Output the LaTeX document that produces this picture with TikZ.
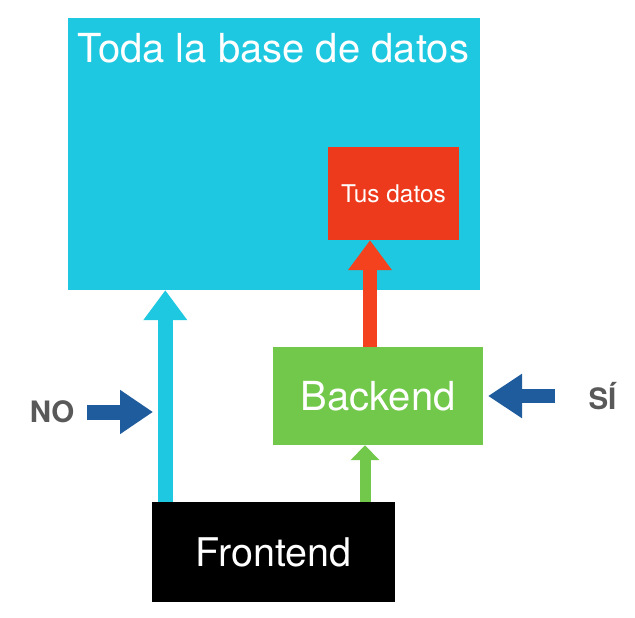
\documentclass[tikz,border=0pt]{standalone}
\usepackage{fontspec}
\setmainfont{TeX Gyre Heros}
\usetikzlibrary{arrows.meta}
\definecolor{dbcyan}{HTML}{1EC8E0}
\definecolor{redbox}{HTML}{EE3A1C}
\definecolor{redarrow}{HTML}{F4411E}
\definecolor{greenbox}{HTML}{72C84B}
\definecolor{darkblue}{HTML}{1F5C9E}
\definecolor{graytext}{HTML}{595959}
\tikzset{
  box/.style={rectangle, inner sep=0pt, draw=none, text=white},
  bigarrow/.style={line width=#1, -{Triangle[width=42pt,length=30pt]}},
  smallarrow/.style={line width=11pt, -{Triangle[width=28pt,length=15pt]}},
  sidetext/.style={text=graytext, font=\bfseries\fontsize{29.5}{31}\selectfont}
}
\begin{document}
\begin{tikzpicture}[x=1pt,y=-1pt]
\useasboundingbox (0,0) rectangle (635,618);
\fill[white] (0,0) rectangle (635,618);
% nodes
\node[box, fill=dbcyan, minimum width=412pt, minimum height=272pt] (db) at (274,154) {};
\node[box, anchor=base west, font=\fontsize{40}{42}\selectfont] (title) at (77,63) {Toda la base de datos};
\node[box, fill=redbox, minimum width=131pt, minimum height=93pt, font=\fontsize{24.4}{26}\selectfont] (red) at (393.5,193.5) {Tus datos};
\node[box, fill=greenbox, minimum width=210pt, minimum height=98pt, font=\fontsize{40}{42}\selectfont] (back) at (378,396) {Backend};
\node[box, fill=black, minimum width=243pt, minimum height=100pt, font=\fontsize{39.5}{42}\selectfont] (front) at (273.5,552) {Frontend};
\node[sidetext, anchor=east] (no) at (78,412) {NO};
\node[sidetext, anchor=west] (si) at (585,396) {SÍ};
% coordinates for the side arrows
\coordinate (noA) at (87,412);
\coordinate (noB) at (153,412);
\coordinate (siA) at (555,396);
\coordinate (siB) at (488,396);
% connectors
\draw[dbcyan, bigarrow=15pt] ([xshift=13.5pt]front.north west) -- ([xshift=13.5pt]front.north west |- db.south);
\draw[redarrow, bigarrow=14pt] ([xshift=-8pt]back.north) -- ([xshift=-8pt]back.north |- red.south);
\draw[greenbox, smallarrow] ([xshift=-13pt]back.south |- front.north) -- ([xshift=-13pt]back.south);
\draw[darkblue, line width=15pt, -{Triangle[width=42pt,length=33pt]}] (noA) -- (noB);
\draw[darkblue, line width=14pt, -{Triangle[width=42pt,length=34pt]}] (siA) -- (siB);
\end{tikzpicture}
\end{document}
